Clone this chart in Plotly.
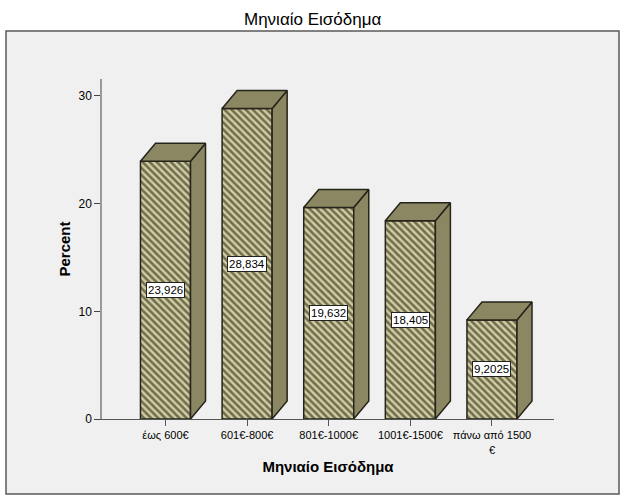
import plotly.graph_objects as go

categories = ["έως 600€", "601€-800€", "801€-1000€", "1001€-1500€", "πάνω από 1500<br>€"]
values = [23.926, 28.834, 19.632, 18.405, 9.2025]
labels = ["23,926", "28,834", "19,632", "18,405", "9,2025"]
y_ticks = [0, 10, 20, 30]

W, H = 626, 501
L, R, T, B = 102, 554, 79, 419
x_range = [-0.778, 4.76]
y_range = [0, 31.57]
bar_w = 0.613
dx = 0.184
dy = 1.67
SIDE = "#8a8762"
FRONT = "#d3ce9f"
EDGE = "#26241a"
positions = list(range(len(values)))

fig = go.Figure()
for p, v in zip(positions, values):
    a, b = p - bar_w / 2, p + bar_w / 2
    fig.add_trace(go.Scatter(x=[b, b + dx, b + dx, b, b], y=[0, dy, v + dy, v, 0], mode="lines",
                             fill="toself", fillcolor=SIDE, line=dict(color=EDGE, width=1.5),
                             hoverinfo="skip", showlegend=False))
    fig.add_trace(go.Scatter(x=[a, a + dx, b + dx, b, a], y=[v, v + dy, v + dy, v, v], mode="lines",
                             fill="toself", fillcolor=SIDE, line=dict(color=EDGE, width=1.5),
                             hoverinfo="skip", showlegend=False))

fig.add_trace(go.Bar(x=positions, y=values, width=bar_w, showlegend=False,
                     marker=dict(color=FRONT, line=dict(color=EDGE, width=1.5),
                                 pattern=dict(shape="\\", size=5, solidity=0.52,
                                              fgcolor="#0c0b06", bgcolor=FRONT))))

for p, v, t in zip(positions, values, labels):
    fig.add_annotation(x=p, y=v / 2, text=t, showarrow=False, bgcolor="white",
                       bordercolor="#222222", borderwidth=1, borderpad=1,
                       font=dict(family="Liberation Sans", size=11.5, color="black"))

fig.add_shape(type="rect", xref="paper", yref="paper", layer="below",
              x0=(6 - L) / (R - L), x1=(619 - L) / (R - L),
              y0=(B - 494) / (B - T), y1=(B - 31) / (B - T),
              fillcolor="#f0f0f0", line=dict(color="#5a5a5a", width=1.5))

fig.add_annotation(xref="paper", yref="paper", x=(312.5 - L) / (R - L), y=(B - 20) / (B - T),
                   text="Μηνιαίο Εισόδημα", showarrow=False, xanchor="center", yanchor="middle",
                   font=dict(family="Liberation Sans", size=17, color="black"))

fig.update_layout(
    width=W, height=H, autosize=False,
    margin=dict(l=L, r=W - R, t=T, b=H - B, pad=0),
    paper_bgcolor="white", plot_bgcolor="rgba(0,0,0,0)",
    barmode="overlay",
    font=dict(family="Liberation Sans", color="black"),
    xaxis=dict(range=x_range, tickvals=positions, ticktext=categories, showgrid=False, zeroline=False,
               showline=True, linecolor="#555555", linewidth=1, ticks="outside", ticklen=6,
               tickcolor="#555555", tickfont=dict(size=11),
               title=dict(text="<b>Μηνιαίο Εισόδημα</b>", font=dict(size=15), standoff=6)),
    yaxis=dict(range=y_range, tickvals=y_ticks, showgrid=False, zeroline=False,
               showline=True, linecolor="#999999", linewidth=1.5, ticks="outside", ticklen=6,
               tickcolor="#444444", tickfont=dict(size=12),
               title=dict(text="<b>Percent</b>", font=dict(size=15), standoff=4)),
)

fig.write_html("out.html", config=dict(displayModeBar=False),
               post_script="document.body.style.margin='0';document.documentElement.style.overflow='hidden';")
